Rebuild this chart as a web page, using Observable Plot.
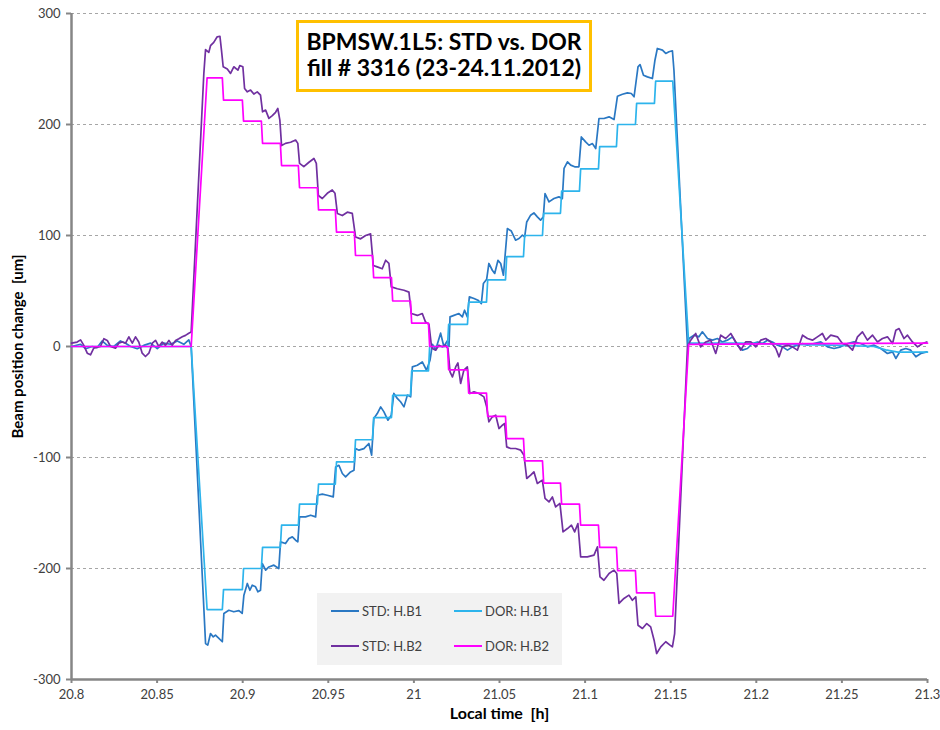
<!DOCTYPE html>
<html>
<head>
<meta charset="utf-8">
<script src="https://cdn.jsdelivr.net/npm/d3@7"></script>
<script src="https://cdn.jsdelivr.net/npm/@observablehq/plot@0.6"></script>
<style>
  html, body { margin: 0; padding: 0; background: #fff; }
  #wrap { position: relative; width: 940px; height: 730px; font-family: Lato, "Open Sans", sans-serif; }
  #wrap svg text { white-space: pre; }
  #title { position: absolute; left: 296px; top: 20px; width: 296px; height: 72px; box-sizing: border-box;
           border: 3px solid #FFC000; background: #fff; color: #000; font-weight: bold; font-size: 23px;
           line-height: 26px; text-align: center; padding-top: 5px; white-space: nowrap; }
  #legend { position: absolute; left: 317px; top: 593px; width: 245px; height: 72px; background: #F2F2F2; }
  .lg-line { position: absolute; width: 28px; height: 0; border-top: 2px solid; }
  .lg-text { position: absolute; font-size: 13px; color: #404040; line-height: 16px; white-space: nowrap; }
</style>
</head>
<body>
<div id="wrap"></div>
<script>
// ---- axis ticks ----
const xTicks = [20.8, 20.85, 20.9, 20.95, 21, 21.05, 21.1, 21.15, 21.2, 21.25, 21.3];
const yTicks = [-300, -200, -100, 0, 100, 200, 300];
const gridTicks = [-200, -100, 0, 100, 200, 300];

// ---- series names / colours ----
const seriesNames = ["STD: H.B1", "DOR: H.B1", "STD: H.B2", "DOR: H.B2"];
const seriesColors = ["#2A78C3", "#2DB4EC", "#7030A0", "#FF00FF"];

// ---- STD: H.B1  [time h, change um] ----
const stdB1 = [
  [20.8000, 0], [20.8053, 2], [20.8082, -2], [20.8121, 0], [20.8150, -1], [20.8179, 5], [20.8209, 1],
  [20.8247, 0], [20.8286, 5], [20.8316, 3], [20.8345, 0], [20.8384, -2], [20.8422, 1], [20.8462, 3],
  [20.8501, -2], [20.8539, 3], [20.8578, 2], [20.8618, 5], [20.8656, 2], [20.8685, 6], [20.8699, 0],
  [20.8783, -267.6], [20.8796, -269], [20.8812, -258.6], [20.8828, -261.6], [20.8841, -260], [20.8861, -263], [20.8881, -266],
  [20.8890, -240.5], [20.8919, -237.6], [20.8948, -239], [20.8978, -238], [20.8997, -240.5],
  [20.9007, -224], [20.9027, -213.5], [20.9042, -219.6], [20.9056, -215], [20.9075, -216.5], [20.9089, -221], [20.9104, -219.6],
  [20.9114, -195.5], [20.9134, -201.5], [20.9153, -198.6], [20.9182, -197], [20.9211, -200],
  [20.9221, -176], [20.9250, -177.5], [20.9270, -173], [20.9290, -171.5], [20.9309, -174.5], [20.9322, -176],
  [20.9332, -153.5], [20.9367, -153.5], [20.9397, -152], [20.9426, -153.5],
  [20.9436, -134], [20.9465, -133], [20.9494, -134], [20.9529, -135.5],
  [20.9543, -108.5], [20.9562, -107], [20.9582, -114.4], [20.9601, -117.4], [20.9630, -113], [20.9650, -111.4],
  [20.9659, -91.9], [20.9679, -93.4], [20.9708, -92], [20.9737, -87.4], [20.9753, -97.9],
  [20.9766, -64.9], [20.9786, -60.4], [20.9806, -54.4], [20.9825, -58.9], [20.9848, -66.4], [20.9868, -61.9],
  [20.9883, -42.3], [20.9903, -46.8], [20.9922, -49.8], [20.9942, -54.4], [20.9962, -43.8], [20.9981, -45.3],
  [20.9991, -18.4], [21.0020, -16.9], [21.0049, -13.9], [21.0074, -21.4], [21.0094, -12.4],
  [21.0108, 2], [21.0127, -3], [21.0156, 12], [21.0175, 0], [21.0195, 5], [21.0205, 0],
  [21.0211, 26.7], [21.0234, 28], [21.0263, 29.7], [21.0283, 26.7], [21.0296, 32.7], [21.0312, 26.7],
  [21.0324, 44.7], [21.0351, 43.2], [21.0374, 41.7], [21.0394, 38.7],
  [21.0406, 56.8], [21.0425, 60.5], [21.0438, 74.8], [21.0458, 68.7], [21.0472, 65.8], [21.0491, 77.7], [21.0507, 74.8], [21.0523, 64.2],
  [21.0546, 106.3], [21.0569, 104], [21.0594, 95.8], [21.0614, 97.3], [21.0634, 100.3], [21.0647, 98.8],
  [21.0659, 112.2], [21.0682, 118.3], [21.0701, 120.4], [21.0721, 116.8], [21.0740, 113.8], [21.0756, 116.8],
  [21.0766, 137.8], [21.0789, 130.3], [21.0818, 133.3], [21.0847, 134.8], [21.0867, 133.3],
  [21.0877, 160.4], [21.0897, 166.4], [21.0916, 163.4], [21.0939, 161.9], [21.0964, 161.9],
  [21.0978, 188.8], [21.1003, 184.3], [21.1023, 181.3], [21.1043, 182.8], [21.1062, 178.3],
  [21.1081, 205.4], [21.1110, 205.4], [21.1140, 206.9], [21.1169, 204.5],
  [21.1189, 225.5], [21.1218, 227.3], [21.1247, 228.5], [21.1270, 227.9], [21.1286, 225],
  [21.1309, 251.9], [21.1321, 254], [21.1341, 244.4], [21.1364, 242.9], [21.1393, 241.4],
  [21.1408, 257.9], [21.1422, 268.5], [21.1452, 267], [21.1471, 264], [21.1490, 265.5], [21.1510, 266.4], [21.1519, 248.9],
  [21.1598, 0], [21.1607, 7.2], [21.1636, 10.2], [21.1665, 8.7], [21.1685, 13.2], [21.1715, 7.2], [21.1744, 5.7],
  [21.1773, 7.2], [21.1802, 4.1], [21.1831, 5.7], [21.1861, 8.7], [21.1890, 1.2], [21.1919, -3.3], [21.1948, -1.8],
  [21.1977, 2.7], [21.2007, 4.1], [21.2036, 2.7], [21.2065, 5.7], [21.2094, 4.1], [21.2124, 1.2], [21.2153, -0.3],
  [21.2182, -3.3], [21.2211, -0.3], [21.2240, 1.2], [21.2270, 2.7], [21.2299, 1.2], [21.2337, 2.7], [21.2377, 4.1],
  [21.2416, -0.3], [21.2454, -1.8], [21.2493, -0.3], [21.2533, 2.7], [21.2571, 4.1], [21.2610, 2.7], [21.2649, -0.3],
  [21.2688, 1.2], [21.2727, -1.8], [21.2766, -6.3], [21.2796, -4.8], [21.2815, -10.8], [21.2844, -3.3], [21.2873, -1.8],
  [21.2902, -3.3], [21.2932, -9.3], [21.2961, -6.3], [21.2996, -4.8]
];

// ---- STD: H.B2 ----
const stdB2 = [
  [20.8000, 3], [20.8033, 4], [20.8053, 6], [20.8072, 1], [20.8092, -6], [20.8111, -7.5], [20.8130, -1.5],
  [20.8169, 0], [20.8189, 7], [20.8209, 5.5], [20.8228, 0], [20.8257, -1.5], [20.8276, 3], [20.8296, 4],
  [20.8316, 3], [20.8335, 8.7], [20.8355, 3], [20.8374, 8.7], [20.8393, 4], [20.8413, -6], [20.8432, -9],
  [20.8452, -6], [20.8472, 3], [20.8491, 5.5], [20.8510, 0], [20.8530, 4], [20.8549, 1], [20.8569, 5.5],
  [20.8588, 1], [20.8608, 5.5], [20.8627, 7], [20.8647, 8.7], [20.8666, 10], [20.8685, 12], [20.8699, 13],
  [20.8773, 246], [20.8783, 267.5], [20.8802, 265], [20.8812, 271], [20.8831, 274], [20.8851, 279], [20.8867, 279.5], [20.8876, 267],
  [20.8886, 252], [20.8910, 250], [20.8929, 246], [20.8948, 252], [20.8972, 249], [20.8983, 253], [20.9001, 252],
  [20.9011, 232.4], [20.9027, 229.4], [20.9046, 231], [20.9065, 227.4], [20.9085, 229.4], [20.9104, 226.4],
  [20.9116, 211.4], [20.9134, 213], [20.9153, 205.5], [20.9173, 208], [20.9192, 211], [20.9205, 214.4], [20.9217, 204],
  [20.9227, 181], [20.9250, 183], [20.9280, 184], [20.9309, 186], [20.9322, 183],
  [20.9332, 165], [20.9357, 162], [20.9387, 166], [20.9416, 169.4], [20.9430, 165],
  [20.9442, 136], [20.9465, 133.3], [20.9494, 138], [20.9523, 141], [20.9539, 138],
  [20.9553, 119.8], [20.9582, 118], [20.9611, 121], [20.9640, 120],
  [20.9659, 98.7], [20.9689, 97], [20.9718, 100], [20.9747, 101.5],
  [20.9763, 73], [20.9786, 71.7], [20.9815, 70], [20.9835, 77.7], [20.9854, 74.8],
  [20.9868, 53.7], [20.9903, 52], [20.9942, 50.7], [20.9971, 49],
  [20.9985, 29.7], [21.0020, 28], [21.0049, 29.7], [21.0068, 22], [21.0088, 20],
  [21.0102, 1], [21.0108, -1.8], [21.0127, -3.3], [21.0146, 1.2], [21.0166, -0.3], [21.0185, 1.2], [21.0199, -1.8],
  [21.0211, -22.9], [21.0225, -27.4], [21.0244, -18.4], [21.0257, -14.8], [21.0273, -33.3], [21.0292, -21.3], [21.0312, -18.4],
  [21.0327, -42.4], [21.0351, -40.9], [21.0380, -42.4], [21.0409, -45.4], [21.0425, -54.4],
  [21.0438, -67.9], [21.0458, -63.4], [21.0478, -61.9], [21.0497, -73.9], [21.0517, -70.9], [21.0530, -69.4],
  [21.0542, -90.4], [21.0565, -91.9], [21.0594, -91.9], [21.0624, -93.4], [21.0643, -97.9],
  [21.0659, -118.9], [21.0682, -115.9], [21.0701, -112.9], [21.0721, -123.4], [21.0750, -120.4],
  [21.0766, -136.9], [21.0789, -140], [21.0809, -135.5], [21.0828, -144.5], [21.0853, -141.4],
  [21.0871, -167], [21.0897, -164], [21.0920, -161], [21.0939, -167], [21.0958, -159.5],
  [21.0974, -189.5], [21.1013, -189.5], [21.1052, -188], [21.1072, -180.5],
  [21.1087, -207.6], [21.1110, -210.6], [21.1140, -204.5], [21.1169, -201.5], [21.1185, -204.5],
  [21.1198, -231.5], [21.1227, -227], [21.1256, -224], [21.1276, -228.6], [21.1296, -225.5],
  [21.1309, -251.1], [21.1335, -254], [21.1360, -249.6], [21.1383, -252.6], [21.1403, -264.6],
  [21.1418, -276.6], [21.1442, -270.6], [21.1471, -266], [21.1496, -269], [21.1510, -270.6], [21.1523, -258.6],
  [21.1598, 0], [21.1617, 5.7], [21.1646, 11.7], [21.1675, -0.3], [21.1705, 4.1], [21.1734, 5.7], [21.1763, -6.3],
  [21.1792, 10.2], [21.1821, 7.2], [21.1851, 11.7], [21.1880, 4.1], [21.1909, -3.3], [21.1938, 4.1], [21.1968, 4.1],
  [21.1997, -0.3], [21.2026, 5.7], [21.2055, 7.2], [21.2084, 4.1], [21.2114, -1.8], [21.2133, -9.3], [21.2153, -0.3],
  [21.2182, 1.2], [21.2211, -0.3], [21.2240, -3.3], [21.2270, 10.2], [21.2299, 7.2], [21.2328, 5.7], [21.2357, 8.7],
  [21.2386, 11.7], [21.2406, 5.7], [21.2435, 10.2], [21.2474, 8.7], [21.2503, 2.7], [21.2533, 1.2], [21.2562, -3.3],
  [21.2591, 8.7], [21.2620, 13.2], [21.2649, 5.7], [21.2679, 10.2], [21.2708, 4.1], [21.2737, 7.2], [21.2766, 8.7],
  [21.2796, 2.7], [21.2815, 14.7], [21.2834, 16.2], [21.2863, 7.2], [21.2883, 10.2], [21.2912, 4.1], [21.2942, -0.3],
  [21.2971, 2.7], [21.2996, 4.1]
];

// ---- DOR: step boundaries (h) and plateau levels (um) ----
const dorRampStart = 20.8699;
const dorRampEnd = 21.1605;
const dorStepTimes = [20.8792, 20.8888, 20.9005, 20.9116, 20.9227, 20.9332, 20.9443, 20.9548, 20.9659,
  20.9765, 20.9876, 20.9987, 21.0092, 21.0203, 21.0320, 21.0431, 21.0542, 21.0647, 21.0758, 21.0863,
  21.0974, 21.1085, 21.1190, 21.1301, 21.1412, 21.1512];
const dorB1Levels = [-237, -219, -200, -181, -161, -142, -124, -104, -84, -64, -44, -22, 0,
  20, 40, 60, 81, 100, 120, 140, 160, 180, 200, 219, 239];
const dorB2Levels = [242, 222, 203, 183, 163, 143, 123, 103, 82, 62, 41, 21, 0,
  -21, -42, -63, -83, -103, -123, -142, -161, -181, -202, -222, -243];
const dorB1After = [[21.1605, 3], [21.1900, 3], [21.2200, 2], [21.2500, 1], [21.2686, 0], [21.2756, -3], [21.2827, -5], [21.3000, -5]];
const dorB2After = [[21.1605, 2], [21.3000, 3]];

function dorSeries(levels, after) {
  const pts = [[20.8, 0], [dorRampStart, 0]];
  levels.forEach((L, i) => {
    pts.push([dorStepTimes[i], L]);
    pts.push([dorStepTimes[i + 1] - (i < levels.length - 1 ? 0.0007 : 0), L]);
  });
  return pts.concat(after);
}
const dorB1 = dorSeries(dorB1Levels, dorB1After);
const dorB2 = dorSeries(dorB2Levels, dorB2After);

const series = [stdB1, dorB1, stdB2, dorB2];

const axisGray = "#868686";
const textGray = "#404040";

const chart = Plot.plot({
  width: 940,
  height: 730,
  marginLeft: 71,
  marginRight: 13,
  marginTop: 13,
  marginBottom: 51,
  style: { fontFamily: "Lato, 'Open Sans', sans-serif", fontSize: "13px", background: "transparent" },
  x: { domain: [20.8, 21.3] },
  y: { domain: [-300, 300] },
  marks: [
    Plot.gridY(gridTicks, { stroke: "#A6A6A6", strokeOpacity: 1, strokeWidth: 1, strokeDasharray: "3,3" }),
    Plot.axisY(yTicks, { tickSize: 5, tickPadding: 6, tickFormat: d => String(d), label: null,
      stroke: axisGray, strokeWidth: 2, color: textGray }),
    Plot.axisX(xTicks, { tickSize: 4, tickPadding: 6, tickFormat: d => String(d), label: null,
      stroke: axisGray, strokeWidth: 2, color: textGray }),
    Plot.ruleX([20.8], { stroke: axisGray, strokeWidth: 2.5 }),
    Plot.ruleY([-300], { stroke: axisGray, strokeWidth: 2.5 }),
    ...series.map((s, i) => Plot.line(s, { x: d => d[0], y: d => d[1], stroke: seriesColors[i], strokeWidth: 1.7, curve: "linear" })),
    Plot.text(["Beam position change  [um]"], { frameAnchor: "left", rotate: -90, dx: -53, textAnchor: "middle",
      fontWeight: "bold", fontSize: 15, fill: "#000" }),
    Plot.text(["Local time  [h]"], { frameAnchor: "bottom", dy: 39, textAnchor: "middle",
      fontWeight: "bold", fontSize: 16, fill: "#000" })
  ]
});

const wrap = document.getElementById("wrap");
wrap.appendChild(chart);

const title = document.createElement("div");
title.id = "title";
title.innerHTML = "BPMSW.1L5: STD vs. DOR<br>fill # 3316 (23-24.11.2012)";
wrap.appendChild(title);

const legend = document.createElement("div");
legend.id = "legend";
const cols = [14, 137];
const rows = [18, 53];
seriesNames.forEach((name, i) => {
  const c = cols[i % 2], r = rows[Math.floor(i / 2)];
  const ln = document.createElement("div");
  ln.className = "lg-line";
  ln.style.left = c + "px";
  ln.style.top = (r - 1) + "px";
  ln.style.borderTopColor = seriesColors[i];
  legend.appendChild(ln);
  const tx = document.createElement("div");
  tx.className = "lg-text";
  tx.style.left = (c + 31) + "px";
  tx.style.top = (r - 8) + "px";
  tx.textContent = name;
  legend.appendChild(tx);
});
wrap.appendChild(legend);
</script>
</body>
</html>
